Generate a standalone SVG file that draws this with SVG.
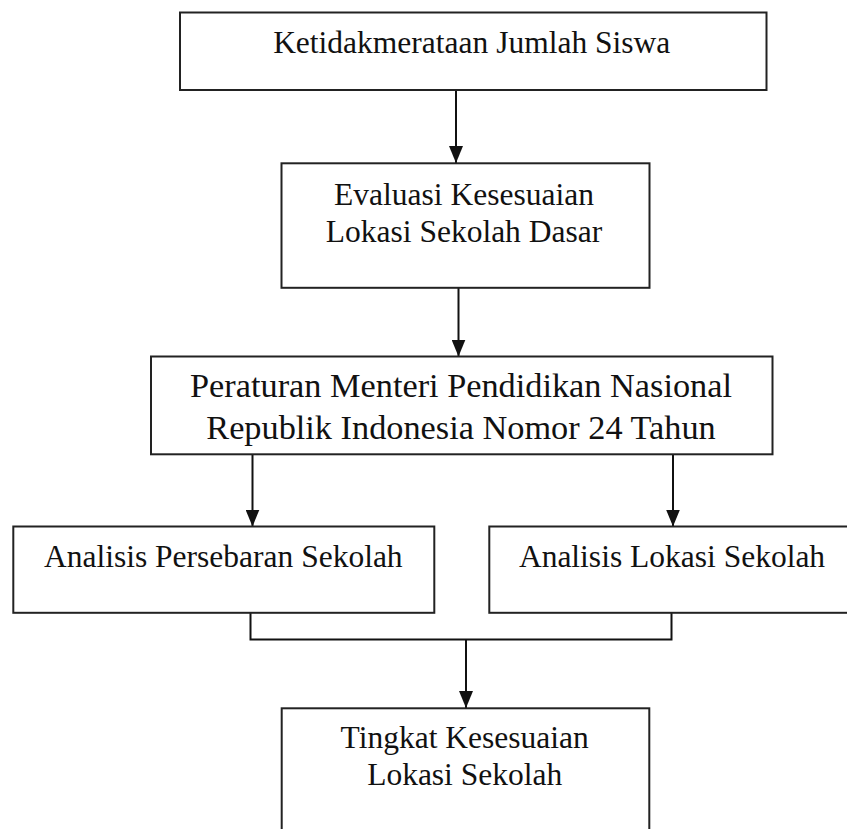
<svg xmlns="http://www.w3.org/2000/svg" width="847" height="829" viewBox="0 0 847 829">
<style>
.box{fill:#fff;stroke:#222;stroke-width:2}
.t{font-family:"Liberation Serif","Times New Roman",serif;font-size:31.5px;fill:#111;text-anchor:middle}
.tl{font-size:34.3px}
.c{fill:none;stroke:#111;stroke-width:2}
</style>
<defs>
<marker id="ah" markerUnits="userSpaceOnUse" markerWidth="17" markerHeight="14" refX="17" refY="7" orient="auto">
<path d="M0,0 L17,7 L0,14 Z" fill="#111"/>
</marker>
</defs>
<rect width="847" height="829" fill="#fff"/>
<g id="connectors">
<line class="c" x1="456" y1="90" x2="456" y2="163" marker-end="url(#ah)"/>
<line class="c" x1="458.5" y1="288" x2="458.5" y2="356.5" marker-end="url(#ah)"/>
<line class="c" x1="252.5" y1="454" x2="252.5" y2="526.5" marker-end="url(#ah)"/>
<line class="c" x1="673" y1="454" x2="673" y2="526.5" marker-end="url(#ah)"/>
<polyline class="c" points="250.5,613 250.5,639.5 671.5,639.5 671.5,613"/>
<line class="c" x1="466" y1="639.5" x2="466" y2="708" marker-end="url(#ah)"/>
</g>
<g id="n1">
<rect class="box" x="180" y="12.5" width="586.5" height="77.5"/>
<text class="t" x="471.7" y="53.3">Ketidakmerataan Jumlah Siswa</text>
</g>
<g id="n2">
<rect class="box" x="281.5" y="163.3" width="368" height="124.5"/>
<text class="t" x="464" y="205">Evaluasi Kesesuaian</text>
<text class="t" x="464" y="242">Lokasi Sekolah Dasar</text>
</g>
<g id="n3">
<rect class="box" x="151" y="356.5" width="621.5" height="97.8"/>
<text class="t tl" x="461" y="396.7">Peraturan Menteri Pendidikan Nasional</text>
<text class="t tl" x="461" y="439">Republik Indonesia Nomor 24 Tahun</text>
</g>
<g id="n4">
<rect class="box" x="13.3" y="526.5" width="421" height="86.3"/>
<text class="t" x="223.3" y="567.3">Analisis Persebaran Sekolah</text>
</g>
<g id="n5">
<rect class="box" x="489.3" y="526.5" width="370" height="86.3"/>
<text class="t" x="672" y="567.3">Analisis Lokasi Sekolah</text>
</g>
<g id="n6">
<rect class="box" x="281.7" y="708.3" width="367.6" height="140"/>
<text class="t" x="464.7" y="747.7">Tingkat Kesesuaian</text>
<text class="t" x="464.7" y="785">Lokasi Sekolah</text>
</g>
</svg>
